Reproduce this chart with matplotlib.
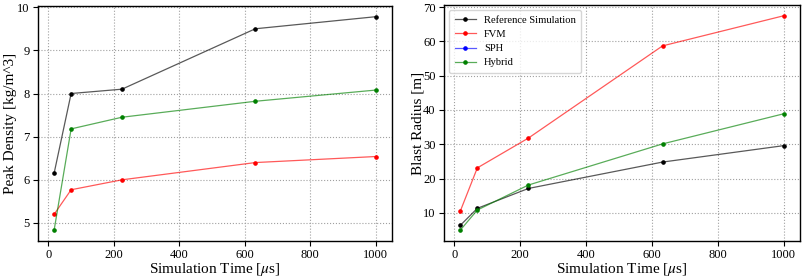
import matplotlib
matplotlib.use("Agg")
import matplotlib.pyplot as plt
from matplotlib.colors import to_rgba

plt.rcParams['font.family'] = ['Liberation Serif', 'DejaVu Serif']
plt.rcParams['mathtext.fontset'] = 'stix'

time_us = [18, 70, 225, 632, 1000]

density_reference = [6.15, 8.0, 8.1, 9.5, 9.78]
density_fvm = [5.2, 5.77, 6.0, 6.4, 6.54]
density_hybrid = [4.83, 7.18, 7.45, 7.82, 8.08]

radius_reference = [6.3, 11.3, 17.1, 24.8, 29.6]
radius_fvm = [10.4, 23.1, 31.8, 58.7, 67.5]
radius_sph = []
radius_hybrid = [4.9, 10.8, 18.1, 30.1, 38.9]

labels = ["Reference Simulation", "FVM", "SPH", "Hybrid"]
colors = ["black", "red", "blue", "green"]

fig = plt.figure(figsize=(8.03, 2.79), dpi=100)
ax1 = fig.add_axes([38/803, 38/279, 354/803, 235/279])
ax2 = fig.add_axes([444/803, 38/279, 356/803, 236/279])


def kw(c):
    return dict(color=to_rgba(c, 0.65), marker='o', markersize=2.3,
                markerfacecolor=c, markeredgecolor=c, linewidth=0.9)


ax1.plot(time_us, density_reference, **kw(colors[0]))
ax1.plot(time_us, density_fvm, **kw(colors[1]))
ax1.plot(time_us, density_hybrid, **kw(colors[3]))
ax1.set_ylabel("Peak Density [kg/m^3]", fontsize=11, labelpad=0)

ax2.plot(time_us, radius_reference, label=labels[0], **kw(colors[0]))
ax2.plot(time_us, radius_fvm, label=labels[1], **kw(colors[1]))
ax2.plot(time_us[:len(radius_sph)], radius_sph, label=labels[2], **kw(colors[2]))
ax2.plot(time_us, radius_hybrid, label=labels[3], **kw(colors[3]))
ax2.set_ylabel("Blast Radius [m]", fontsize=11, labelpad=-1)
ax2.legend(loc='upper left', fontsize=7.6, frameon=True, handlelength=2.0,
           borderpad=0.5, labelspacing=0.45, fancybox=True)

for ax in (ax1, ax2):
    ax.set_xlabel(r"Simulation Time [$\mu$s]", fontsize=11, labelpad=0)
    ax.grid(True, linestyle=':', color='#a0a0a0', linewidth=0.8)
    ax.tick_params(labelsize=9, pad=2.5)
    ax.set_xticks([0, 200, 400, 600, 800, 1000])
    for s in ax.spines.values():
        s.set_linewidth(1.0)

fig.savefig("out.png", dpi=100)
